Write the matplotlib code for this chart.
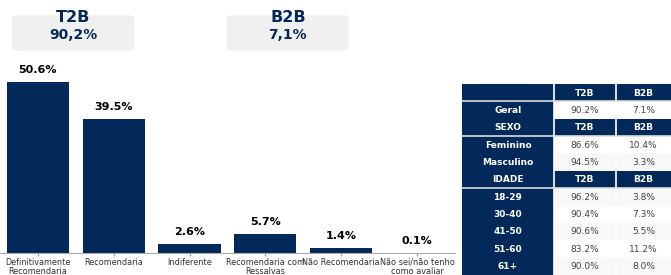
import matplotlib.pyplot as plt
from matplotlib.patches import FancyBboxPatch, Rectangle

navy = "#03295a"

categorias = ["Definitivamente\nRecomendaria", "Recomendaria", "Indiferente",
              "Recomendaria com\nRessalvas", "Não Recomendaria", "Não sei/não tenho\ncomo avaliar"]
valores = [50.6, 39.5, 2.6, 5.7, 1.4, 0.1]

resumo_titulos = ["T2B", "B2B"]
resumo_valores = ["90,2%", "7,1%"]

tabela_linhas = ["", "Geral", "SEXO", "Feminino", "Masculino", "IDADE",
                 "18-29", "30-40", "41-50", "51-60", "61+"]
tabela_t2b = ["T2B", "90.2%", "T2B", "86.6%", "94.5%", "T2B",
              "96.2%", "90.4%", "90.6%", "83.2%", "90.0%"]
tabela_b2b = ["B2B", "7.1%", "B2B", "10.4%", "3.3%", "B2B",
              "3.8%", "7.3%", "5.5%", "11.2%", "8.0%"]
cabecalhos = [0, 2, 5]

fig = plt.figure(figsize=(6.71, 2.75), dpi=100)

# bar chart
ax = fig.add_axes([0.0, 0.08, 0.678, 0.69])
x = range(len(valores))
ax.bar(x, valores, width=0.82, color=navy)
for i, v in zip(x, valores):
    ax.annotate(f"{v:.1f}%", (i, v), xytext=(0, 5), textcoords="offset points",
                ha="center", va="bottom", fontsize=8, fontweight="bold")
ax.set_xlim(-0.5, len(valores) - 0.5)
ax.set_ylim(0, 56)
ax.set_xticks(list(x))
ax.set_xticklabels(categorias, fontsize=5.9, color="#333333", linespacing=1.05)
ax.tick_params(axis="x", length=2, color="#999999", pad=1.5)
ax.set_yticks([])
for s in ["top", "right", "left"]:
    ax.spines[s].set_visible(False)
ax.spines["bottom"].set_color("#aaaaaa")
ax.spines["bottom"].set_linewidth(0.8)

# summary boxes
for bx, titulo, valor in zip([0.018, 0.338], resumo_titulos, resumo_valores):
    w = 0.182
    box = FancyBboxPatch((bx, 0.815), w, 0.13, boxstyle="round,pad=0,rounding_size=0.012",
                         transform=fig.transFigure, facecolor="#f0f0f0", edgecolor="none")
    fig.patches.append(box)
    fig.text(bx + w / 2, 0.935, titulo, ha="center", va="center", fontsize=11.5,
             fontweight="bold", color=navy)
    fig.text(bx + w / 2, 0.873, valor, ha="center", va="center", fontsize=10,
             fontweight="bold", color=navy)

# table
tx = fig.add_axes([0.6885, 0.0, 0.3115, 0.6945])
n = len(tabela_linhas)
tx.set_xlim(0, 1)
tx.set_ylim(n, 0)
tx.axis("off")
bordas = [0, 0.44, 0.737, 1.0]
for r in range(n):
    cells = [tabela_linhas[r], tabela_t2b[r], tabela_b2b[r]]
    fundo = "white" if r in (1, 3, 7, 9) else "#f8f8f8"
    for c in range(3):
        x0, x1 = bordas[c], bordas[c + 1]
        head = c == 0 or r in cabecalhos
        fc = navy if head else fundo
        tx.add_patch(Rectangle((x0, r), x1 - x0, 1, facecolor=fc, edgecolor="none"))
        tx.text((x0 + x1) / 2, r + 0.52, cells[c], ha="center", va="center",
                fontsize=6.5, fontweight="bold" if head else "normal",
                color="white" if head else "#444444")
for b in bordas[1:3]:
    tx.plot([b, b], [0, n], color="white", lw=1.2)
for r in cabecalhos:
    tx.plot([0, 1], [r + 1, r + 1], color="#dddddd", lw=1.2)

fig.savefig("out.png", dpi=100)
